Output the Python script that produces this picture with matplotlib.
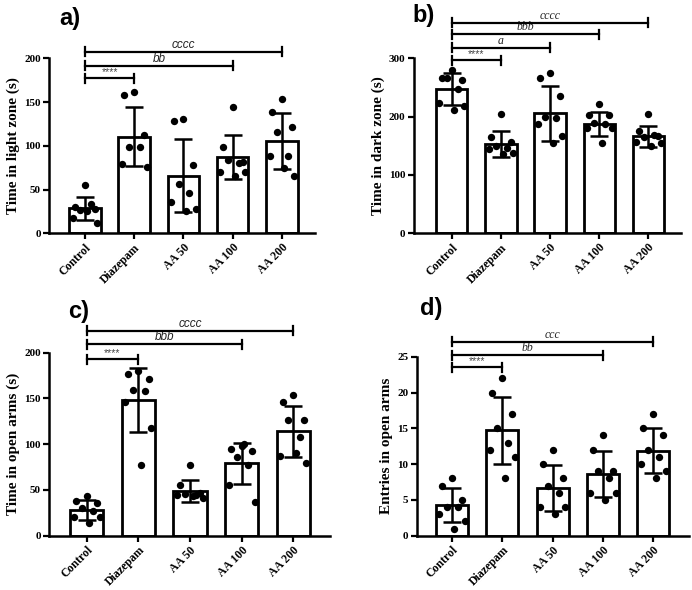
import numpy as np
import matplotlib
matplotlib.use('Agg')
import matplotlib.pyplot as plt

GROUPS = ['Control', 'Diazepam', 'AA 50', 'AA 100', 'AA 200']

# a) light zone
light_mean = [28.6, 110.5, 66, 87, 105.5]
light_sd = [13, 33.5, 42, 25, 31.5]
light_pts = [
    [55, 30, 28, 27, 33, 17, 12, 25],
    [162, 158, 112, 99, 99, 79, 76],
    [131, 128, 78, 56, 46, 36, 28, 25],
    [144, 99, 81, 84, 80, 70, 70, 65],
    [153, 139, 122, 116, 88, 88, 66, 75],
]

# b) dark zone
dark_mean = [247, 153, 206, 187, 166]
dark_sd = [27, 22, 47, 21, 18]
dark_pts = [
    [280, 267, 263, 266, 247, 223, 218, 212],
    [204, 165, 157, 149, 146, 144, 138, 136],
    [275, 267, 235, 200, 197, 187, 166, 155],
    [221, 203, 202, 189, 187, 180, 180, 154],
    [204, 175, 166, 165, 169, 157, 155, 149],
]

# c) time in open arms
arms_mean = [28, 148, 49, 79, 114]
arms_sd = [11, 35, 12, 22, 28]
arms_pts = [
    [43, 38, 36, 30, 27, 21, 20, 14],
    [180, 177, 171, 159, 158, 146, 118, 77],
    [77, 55, 47, 46, 45, 44, 41.5, 43],
    [98, 95, 93, 86, 77, 55, 37, 100],
    [154, 146, 127, 127, 108, 87, 80, 90],
]

# d) entries in open arms
entries_mean = [4.25, 14.7, 6.7, 8.6, 11.9]
entries_sd = [2.4, 4.7, 3.2, 3.2, 3.2]
entries_pts = [
    [8, 7, 5, 4, 4, 3, 2, 1],
    [22, 20, 17, 15, 13, 12, 11, 8],
    [12, 10, 8, 7, 6, 4, 4, 3],
    [14, 12, 9, 9, 8, 6, 6, 5],
    [17, 15, 14, 12, 11, 10, 9, 8],
]

# (end group, y, label)
light_sig = [(4, 207.6, 'cccc'), (3, 191.6, 'bb'), (1, 177, '****')]
dark_sig = [(4, 361, 'cccc'), (3, 341, 'bbb'), (2, 318, 'a'), (1, 297, '****')]
arms_sig = [(4, 224, 'cccc'), (3, 209.5, 'bbb'), (1, 193, '****')]
entries_sig = [(4, 27.1, 'ccc'), (3, 25.2, 'bb'), (1, 23.5, '****')]

SERIF = 'Liberation Serif'
SANS = 'Liberation Sans'
JITTER = [0.0, -0.2, 0.2, -0.1, 0.12, -0.25, 0.25, 0.05]


def panel(fig, rect, means, sds, pts, sig, ymax, yticks, ylabel, letter,
          xlim, sig_family, letter_xy):
    ax = fig.add_axes(rect)
    x = np.arange(len(GROUPS))
    ax.bar(x, means, width=0.64, color='white', edgecolor='black',
           linewidth=2.0, zorder=2)
    ax.errorbar(x, means, yerr=sds, fmt='none', ecolor='black',
                elinewidth=1.8, capsize=6.5, capthick=1.8, zorder=4)
    for i, vals in enumerate(pts):
        xs = [i + JITTER[j % len(JITTER)] for j in range(len(vals))]
        ax.scatter(xs, vals, s=28, color='black', zorder=5, linewidths=0)
    ax.set_xlim(*xlim)
    ax.set_ylim(0, ymax)
    ax.set_yticks(yticks)
    ax.set_yticklabels([str(t) for t in yticks], fontfamily=SERIF,
                       fontweight='bold', fontsize=8)
    ax.set_xticks(x)
    ax.set_xticklabels(GROUPS, rotation=45, ha='right', rotation_mode='anchor',
                       fontfamily=SERIF, fontweight='bold', fontsize=8.5)
    ax.set_ylabel(ylabel, fontfamily=SERIF, fontweight='bold', fontsize=11,
                  labelpad=3)
    for s in ['top', 'right']:
        ax.spines[s].set_visible(False)
    for s in ['left', 'bottom']:
        ax.spines[s].set_linewidth(1.8)
    ax.tick_params(width=1.6, length=4, pad=2)

    # tick half-height of brackets, ~4 px
    h = 4.5 * ymax / (rect[3] * 590)
    for end, y, lab in sig:
        ax.plot([0, end], [y, y], color='black', lw=1.6, clip_on=False, zorder=6)
        ax.plot([0, 0], [y - h, y + h], color='black', lw=1.6, clip_on=False)
        ax.plot([end, end], [y - h, y + h], color='black', lw=1.6, clip_on=False)
        if lab == '****':
            ax.text(end / 2, y + h * 0.2, lab, ha='center', va='bottom',
                    fontsize=7.5, color='#444444', family=SANS)
        else:
            ax.text(end / 2, y + h * 0.2, lab, ha='center', va='bottom',
                    fontsize=8.5, style='italic', color='#222222',
                    family=sig_family)
    fig.text(letter_xy[0], letter_xy[1], letter, fontsize=17,
             fontweight='bold', family=SANS, ha='left', va='top')
    return ax


fig = plt.figure(figsize=(6.92, 5.90), dpi=100)

panel(fig, [0.0708, 0.6046, 0.3844, 0.2966], light_mean, light_sd, light_pts,
      light_sig, 200, [0, 50, 100, 150, 200], 'Time in light zone (s)', 'a)',
      (-0.73, 4.67), SANS, (0.086, 0.988))
panel(fig, [0.598, 0.6046, 0.386, 0.2966], dark_mean, dark_sd, dark_pts,
      dark_sig, 300, [0, 100, 200, 300], 'Time in dark zone (s)', 'b)',
      (-0.77, 4.66), SERIF, (0.596, 0.993))
panel(fig, [0.0708, 0.092, 0.4061, 0.3102], arms_mean, arms_sd, arms_pts,
      arms_sig, 200, [0, 50, 100, 150, 200], 'Time in open arms (s)', 'c)',
      (-0.73, 4.71), SANS, (0.099, 0.492))
panel(fig, [0.6022, 0.092, 0.3935, 0.3034], entries_mean, entries_sd,
      entries_pts, entries_sig, 25, [0, 5, 10, 15, 20, 25],
      'Entries in open arms', 'd)', (-0.70, 4.71), SERIF, (0.607, 0.496))

fig.savefig('out.png', dpi=100)
